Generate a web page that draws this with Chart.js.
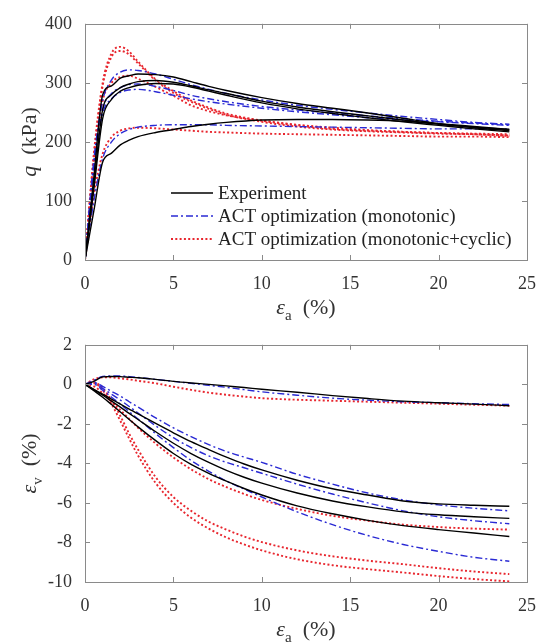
<!DOCTYPE html>
<html>
<head>
<meta charset="utf-8">
<script src="https://cdn.jsdelivr.net/npm/chart.js@4.4.1/dist/chart.umd.min.js"></script>
<style>
  body { margin: 0; background: #fff; font-family: "Liberation Serif", serif; }
  .box { position: relative; width: 549px; height: 321px; }
</style>
</head>
<body>
<div class="box"><canvas id="qChart"></canvas></div>
<div class="box"><canvas id="evChart"></canvas></div>
<script>
// axial strain grids (%)
const epsTop = [0, 0.5, 1, 1.5, 2, 2.5, 3, 4, 5, 6, 7, 8, 10, 12, 14, 16, 18, 20, 22, 24];
const epsBot = [0, 0.5, 1, 1.5, 2, 2.5, 3, 4, 5, 6, 7, 8, 9, 10, 12, 14, 16, 18, 20, 22, 24];

// deviator stress q (kPa)
const expQ1 = [0, 140, 280, 295, 308, 312, 315, 314, 310, 302, 294, 287, 275, 265, 257, 249, 240, 231, 224, 219];
const expQ2 = [0, 128, 255, 280, 292, 298, 302, 304, 301, 295, 288, 282, 269, 259, 251, 244, 237, 230, 225, 221];
const expQ3 = [0, 120, 240, 272, 286, 292, 296, 299, 298, 293, 286, 279, 266, 256, 248, 241, 234, 228, 222, 217];
const expQ4 = [0, 83, 166, 181, 195, 203, 209, 216, 221, 226, 230, 233, 237, 238, 238, 237, 235, 231, 226, 221];

const monoQ1 = [0, 170, 270, 305, 318, 322, 321, 315, 306, 297, 289, 282, 271, 262, 255, 249, 243, 238, 233, 230];
const monoQ2 = [0, 160, 255, 282, 292, 297, 298, 294, 287, 279, 273, 268, 260, 254, 249, 244, 239, 235, 232, 229];
const monoQ3 = [0, 155, 248, 273, 284, 288, 289, 285, 279, 273, 268, 264, 257, 251, 246, 241, 237, 234, 231, 228];
const monoQ4 = [0, 100, 172, 200, 214, 221, 225, 228, 229, 229, 229, 228, 227, 226, 225, 224, 223, 222, 222, 222];

const cycQ1 = [0, 180, 300, 350, 361, 353, 336, 306, 286, 270, 258, 248, 236, 228, 222, 219, 217, 215, 214, 213];
const cycQ2 = [0, 175, 295, 344, 354, 348, 333, 304, 283, 268, 256, 246, 234, 226, 221, 218, 216, 214, 213, 211];
const cycQ3 = [0, 165, 270, 300, 310, 312, 307, 293, 278, 262, 252, 245, 236, 229, 224, 220, 217, 215, 213, 210];
const cycQ4 = [0, 110, 180, 208, 219, 223, 224, 223, 221, 219, 217, 216, 214, 213, 212, 211, 210, 209, 209, 208];

// volumetric strain (%)
const expV1 = [0, 0.15, 0.38, 0.4, 0.39, 0.36, 0.33, 0.25, 0.15, 0.07, 0, -0.08, -0.16, -0.25, -0.4, -0.57, -0.72, -0.85, -0.93, -1.0, -1.08];
const expV2 = [0, -0.25, -0.5, -0.75, -1.0, -1.25, -1.5, -1.98, -2.45, -2.9, -3.3, -3.68, -4.03, -4.33, -4.85, -5.28, -5.6, -5.9, -6.05, -6.12, -6.17];
const expV3 = [0, -0.27, -0.55, -0.85, -1.15, -1.47, -1.78, -2.4, -2.98, -3.5, -3.95, -4.35, -4.7, -5.0, -5.5, -5.9, -6.2, -6.45, -6.6, -6.7, -6.78];
const expV4 = [0, -0.32, -0.65, -1.02, -1.4, -1.78, -2.15, -2.85, -3.5, -4.05, -4.5, -4.9, -5.27, -5.6, -6.15, -6.55, -6.88, -7.15, -7.35, -7.52, -7.7];

const monoV1 = [0, 0.2, 0.4, 0.42, 0.42, 0.39, 0.35, 0.25, 0.15, 0.05, -0.05, -0.15, -0.27, -0.38, -0.55, -0.7, -0.8, -0.88, -0.93, -0.98, -1.02];
const monoV2 = [0, 0.1, -0.1, -0.35, -0.6, -0.88, -1.15, -1.7, -2.2, -2.65, -3.05, -3.4, -3.68, -3.95, -4.55, -5.05, -5.5, -5.85, -6.1, -6.27, -6.4];
const monoV3 = [0, 0.05, -0.2, -0.5, -0.8, -1.12, -1.45, -2.1, -2.7, -3.2, -3.62, -3.95, -4.22, -4.5, -5.05, -5.55, -6.0, -6.4, -6.7, -6.9, -7.05];
const monoV4 = [0, 0, -0.3, -0.65, -1.0, -1.38, -1.75, -2.5, -3.2, -3.85, -4.4, -4.9, -5.3, -5.7, -6.45, -7.1, -7.65, -8.1, -8.45, -8.75, -8.95];

const cycV1 = [0, 0.25, 0.35, 0.35, 0.3, 0.25, 0.18, 0.05, -0.12, -0.28, -0.42, -0.53, -0.62, -0.7, -0.78, -0.83, -0.88, -0.93, -0.98, -1.03, -1.08];
const cycV2 = [0, -0.1, -0.45, -0.88, -1.3, -1.75, -2.2, -3.0, -3.7, -4.3, -4.8, -5.2, -5.55, -5.85, -6.3, -6.65, -6.9, -7.1, -7.22, -7.3, -7.35];
const cycV3 = [0, 0.1, -0.2, -0.8, -1.6, -2.5, -3.3, -4.7, -5.7, -6.4, -6.95, -7.35, -7.7, -7.98, -8.4, -8.7, -8.92, -9.1, -9.3, -9.47, -9.6];
const cycV4 = [0, 0.05, -0.3, -1.0, -1.85, -2.75, -3.6, -5.0, -6.0, -6.75, -7.3, -7.75, -8.1, -8.4, -8.85, -9.15, -9.35, -9.52, -9.7, -9.85, -9.97];

const legendLabels = ['Experiment', 'ACT optimization (monotonic)', 'ACT optimization (monotonic+cyclic)'];
const xTicks = [0, 5, 10, 15, 20, 25];
const qTicks = [0, 100, 200, 300, 400];
const evTicks = [-10, -8, -6, -4, -2, 0, 2];

const SERIF = "'Liberation Serif', 'DejaVu Serif', serif";
const styles = [
  { borderColor: '#000000', borderWidth: 1.4, borderDash: [] },
  { borderColor: '#2a2ad4', borderWidth: 1.4, borderDash: [7, 3, 2, 3] },
  { borderColor: '#e8262e', borderWidth: 1.9, borderDash: [2, 2.3] }
];

function pts(xs, ys) { return xs.map((x, i) => ({ x: x, y: ys[i] })); }

function makeSets(xs, groups) {
  const out = [];
  groups.forEach((g, gi) => {
    g.forEach(ys => {
      out.push(Object.assign({ label: legendLabels[gi], data: pts(xs, ys), pointRadius: 0,
        cubicInterpolationMode: 'monotone', fill: false }, styles[gi]));
    });
  });
  return out;
}

// draw text pieces (italic / subscript) centered at (cx, cy)
function drawMath(ctx, parts, cx, cy, rot, size) {
  ctx.save();
  ctx.translate(cx, cy);
  ctx.rotate(rot);
  ctx.fillStyle = '#333';
  ctx.textBaseline = 'alphabetic';
  const fontOf = p => (p.it ? 'italic ' : '') + (p.sub ? Math.round(size * 0.7) : size) + 'px ' + SERIF;
  let w = 0;
  parts.forEach(p => { ctx.font = fontOf(p); w += ctx.measureText(p.t).width; });
  let x = -w / 2;
  parts.forEach(p => {
    ctx.font = fontOf(p);
    ctx.fillText(p.t, x, size * 0.35 + (p.sub ? size * 0.3 : 0));
    x += ctx.measureText(p.t).width;
  });
  ctx.restore();
}

const matlabBox = {
  id: 'matlabBox',
  afterDatasetsDraw(chart) {
    const { ctx, chartArea: a, scales: { x, y } } = chart;
    ctx.save();
    ctx.strokeStyle = '#8a8a8a';
    ctx.lineWidth = 1;
    ctx.setLineDash([]);
    ctx.strokeRect(Math.round(a.left) + 0.5, Math.round(a.top) + 0.5,
      Math.round(a.right - a.left), Math.round(a.bottom - a.top));
    ctx.beginPath();
    x.ticks.forEach(t => {
      const p = Math.round(x.getPixelForValue(t.value)) + 0.5;
      ctx.moveTo(p, a.bottom); ctx.lineTo(p, a.bottom - 5);
      ctx.moveTo(p, a.top); ctx.lineTo(p, a.top + 5);
    });
    y.ticks.forEach(t => {
      const p = Math.round(y.getPixelForValue(t.value)) + 0.5;
      ctx.moveTo(a.left, p); ctx.lineTo(a.left + 5, p);
      ctx.moveTo(a.right, p); ctx.lineTo(a.right - 5, p);
    });
    ctx.stroke();
    const o = chart.options.plugins.matlabBox;
    const cx = (a.left + a.right) / 2;
    drawMath(ctx, [{ t: 'ε', it: true }, { t: 'a', sub: true }, { t: '  (%)' }], cx, a.bottom + 46, 0, 22);
    drawMath(ctx, o.ylabel, 28, (a.top + a.bottom) / 2, -Math.PI / 2, 22);
    if (o.legend) {
      ctx.font = '19px ' + SERIF;
      ctx.textBaseline = 'middle';
      legendLabels.forEach((lab, i) => {
        const yy = 193 + i * 23;
        const s = styles[i];
        ctx.strokeStyle = s.borderColor;
        ctx.lineWidth = s.borderWidth;
        ctx.setLineDash(s.borderDash);
        ctx.beginPath(); ctx.moveTo(171, yy); ctx.lineTo(213, yy); ctx.stroke();
        ctx.fillStyle = '#222';
        ctx.fillText(lab, 218, yy + 1);
      });
    }
    ctx.restore();
  }
};

function axisOpts(min, max, step, size, ticksArr, pad) {
  return {
    type: 'linear', min: min, max: max,
    ticks: { stepSize: step, color: '#333', padding: pad, font: { family: SERIF, size: 18 },
      callback: v => ticksArr.includes(v) ? String(v) : '' },
    grid: { display: false, drawTicks: false }, border: { display: false },
    afterFit: size
  };
}

function build() {
  Chart.defaults.font.family = SERIF;

  new Chart(document.getElementById('qChart'), {
    type: 'line',
    data: { datasets: makeSets(epsTop, [[expQ1, expQ2, expQ3, expQ4], [monoQ1, monoQ2, monoQ3, monoQ4], [cycQ1, cycQ2, cycQ3, cycQ4]]) },
    options: {
      animation: false, responsive: true, maintainAspectRatio: false,
      layout: { padding: { top: 19, right: 14, left: 0, bottom: 0 } },
      plugins: { legend: { display: false }, tooltip: { enabled: false },
        matlabBox: { legend: true, ylabel: [{ t: 'q', it: true }, { t: '  (kPa)' }] } },
      scales: {
        x: axisOpts(0, 25, 5, s => { s.height = 61; }, xTicks, 13),
        y: axisOpts(0, 400, 100, s => { s.width = 85; }, qTicks, 13)
      }
    },
    plugins: [matlabBox]
  });

  new Chart(document.getElementById('evChart'), {
    type: 'line',
    data: { datasets: makeSets(epsBot, [[expV1, expV2, expV3, expV4], [monoV1, monoV2, monoV3, monoV4], [cycV1, cycV2, cycV3, cycV4]]) },
    options: {
      animation: false, responsive: true, maintainAspectRatio: false,
      layout: { padding: { top: 19, right: 14, left: 0, bottom: 0 } },
      plugins: { legend: { display: false }, tooltip: { enabled: false },
        matlabBox: { legend: false, ylabel: [{ t: 'ε', it: true }, { t: 'v', sub: true }, { t: '  (%)' }] } },
      scales: {
        x: axisOpts(0, 25, 5, s => { s.height = 60; }, xTicks, 13),
        y: axisOpts(-10, 2, 2, s => { s.width = 85; }, evTicks, 13)
      }
    },
    plugins: [matlabBox]
  });
}

Promise.all([
  document.fonts.load("18px 'Liberation Serif'"),
  document.fonts.load("italic 22px 'Liberation Serif'")
]).then(build, build);
</script>
</body>
</html>
